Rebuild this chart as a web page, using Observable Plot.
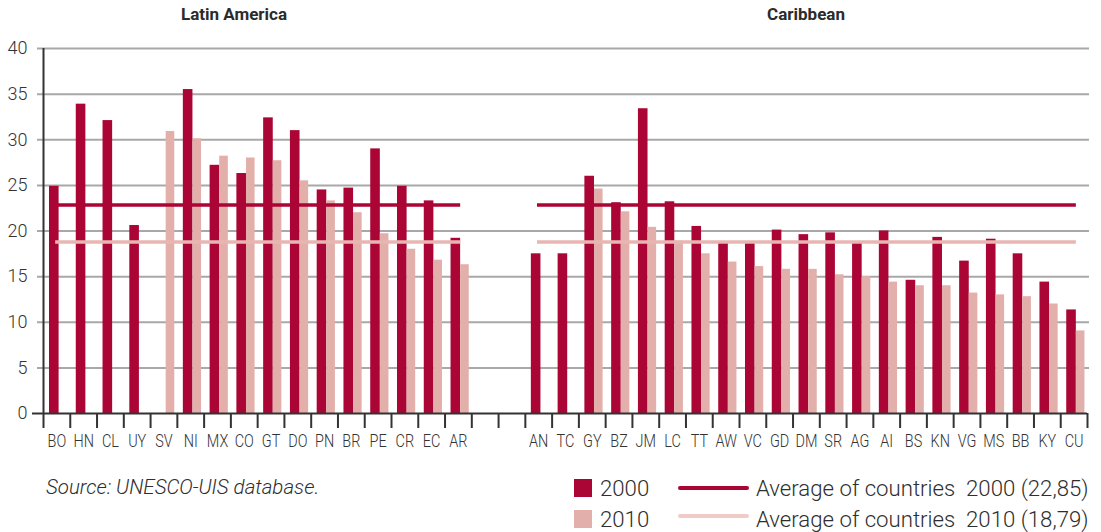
<!DOCTYPE html>
<html>
<head>
<meta charset="utf-8">
<script src="https://cdn.jsdelivr.net/npm/d3@7"></script>
<script src="https://cdn.jsdelivr.net/npm/@observablehq/plot@0.6"></script>
<style>
  body { margin: 0; background: #fff; }
  #wrap { position: relative; width: 1101px; height: 532px; overflow: hidden; font-family: Roboto, "Open Sans", sans-serif; color: #333; }
  .abs { position: absolute; white-space: pre; line-height: 1; }
  .title { font-weight: 700; font-size: 17px; transform: translateX(-50%); color: #2b2b2b; }
  .leg { font-size: 22.2px; font-weight: 300; color: #2e2e2e; }
  .sw { position: absolute; width: 18px; height: 18px; }
  .ln { position: absolute; width: 71px; height: 4px; border-radius: 2px; }
  #chart { position: absolute; left: 0; top: 0; }
</style>
</head>
<body>
<div id="wrap">
  <div id="chart"></div>
</div>
<script>
// ---- Data ----
const latinCountries = ["BO","HN","CL","UY","SV","NI","MX","CO","GT","DO","PN","BR","PE","CR","EC","AR"];
const latin2000 = [24.9, 33.9, 32.1, 20.6, null, 35.5, 27.2, 26.3, 32.4, 31.0, 24.5, 24.7, 29.0, 24.9, 23.3, 19.2];
const latin2010 = [null, null, null, null, 30.9, 30.1, 28.2, 28.0, 27.7, 25.5, 23.3, 22.0, 19.7, 18.0, 16.8, 16.3];

const caribCountries = ["AN","TC","GY","BZ","JM","LC","TT","AW","VC","GD","DM","SR","AG","AI","BS","KN","VG","MS","BB","KY","CU"];
const carib2000 = [17.5, 17.5, 26.0, 23.1, 33.4, 23.2, 20.5, 18.7, 18.7, 20.1, 19.6, 19.8, 18.7, 20.0, 14.6, 19.3, 16.7, 19.1, 17.5, 14.4, 11.35];
const carib2010 = [null, null, 24.6, 22.1, 20.4, 18.9, 17.5, 16.6, 16.1, 15.8, 15.8, 15.2, 15.0, 14.4, 14.0, 14.0, 13.2, 13.0, 12.8, 12.0, 9.05];

const gapSlots = ["gap1", "gap2"];
const average2000 = 22.85;
const average2010 = 18.79;
const yTicks = [0, 5, 10, 15, 20, 25, 30, 35, 40];

const regionTitles = ["Latin America", "Caribbean"];
const sourceText = "Source: UNESCO-UIS database.";
const legendYears = ["2000", "2010"];
const legendAverages = ["Average of countries  2000 (22,85)", "Average of countries  2010 (18,79)"];

// ---- Styles ----
const dark = "#ab0535";
const light = "#e2afab";
const lightLine = "#e8b6b2";
const legendLightLine = "#f1cbc8";

// ---- Build tables ----
const domain = [...latinCountries, ...gapSlots, ...caribCountries];
function rows(countries, values) {
  return countries.map((c, i) => ({country: c, value: values[i]})).filter(d => d.value != null);
}
const rows2000 = [...rows(latinCountries, latin2000), ...rows(caribCountries, carib2000)];
const rows2010 = [...rows(latinCountries, latin2010), ...rows(caribCountries, carib2010)];
function avgRows(value) {
  return [
    {group: "LA", country: latinCountries[0], value},
    {group: "LA", country: latinCountries[latinCountries.length - 1], value},
    {group: "CB", country: caribCountries[0], value},
    {group: "CB", country: caribCountries[caribCountries.length - 1], value}
  ];
}

const W = 1101, H = 460, mL = 43, mR = 14, mT = 48, mB = 47;
const bw = (W - mL - mR) / domain.length;
const frameH = H - mT - mB;

const plot = Plot.plot({
  width: W, height: H,
  marginLeft: mL, marginRight: mR, marginTop: mT, marginBottom: mB,
  style: {fontFamily: "Roboto, sans-serif", background: "white", color: "#333", overflow: "visible"},
  x: {type: "band", domain, padding: 0, label: null},
  y: {domain: [0, 40], label: null},
  marks: [
    Plot.ruleY(yTicks.filter(d => d > 0), {stroke: "#a8a8a8", strokeWidth: 2, insetLeft: -6, insetRight: -2}),
    Plot.barY(rows2000, {x: "country", y: "value", fill: dark, insetLeft: 6, insetRight: bw - 15.6}),
    Plot.barY(rows2010, {x: "country", y: "value", fill: light, insetLeft: 15.6, insetRight: bw - 24.2}),
    Plot.lineY(avgRows(average2010), {x: "country", y: "value", z: "group", stroke: lightLine, strokeWidth: 3.5, strokeLinecap: "square"}),
    Plot.lineY(avgRows(average2000), {x: "country", y: "value", z: "group", stroke: dark, strokeWidth: 3.5, strokeLinecap: "square"}),
    Plot.ruleY([0], {stroke: "#333", strokeWidth: 2, insetLeft: -11}),
    Plot.ruleX(domain.slice(1), {x: d => d, dx: -bw / 2, stroke: "#333", strokeWidth: 2, insetTop: frameH, insetBottom: -15}),
    Plot.ruleX([domain[domain.length - 1]], {x: d => d, dx: bw / 2, stroke: "#333", strokeWidth: 2, insetTop: frameH, insetBottom: -15}),
    Plot.ruleX([domain[0]], {x: d => d, dx: -bw / 2, stroke: "#333", strokeWidth: 2, insetBottom: -15}),
    Plot.axisX({tickSize: 0, tickPadding: 20, fontSize: 18.5, fill: "#333", tickFormat: d => gapSlots.includes(d) ? "" : d}),
    Plot.axisY({ticks: yTicks, tickSize: 0, tickPadding: 16, fontSize: 18, fill: "#333"})
  ]
});
document.getElementById("chart").appendChild(plot);

// condense x tick labels
d3.select(plot).selectAll('g[aria-label="x-axis tick label"] text').each(function() {
  const t = this.getAttribute("transform");
  if (t) {
    this.setAttribute("transform", t + " scale(0.78,1)");
  } else {
    const x = +this.getAttribute("x") || 0, y = +this.getAttribute("y") || 0;
    this.removeAttribute("x"); this.removeAttribute("y");
    this.setAttribute("transform", `translate(${x},${y}) scale(0.78,1)`);
  }
});
d3.select(plot).selectAll('g[aria-label="x-axis tick label"], g[aria-label="y-axis tick label"]').attr("font-weight", 300);

// ---- Titles & legend (HTML) ----
const wrap = d3.select("#wrap");
wrap.append("div").attr("class", "abs title").style("left", "234px").style("top", "6.4px").text(regionTitles[0]);
wrap.append("div").attr("class", "abs title").style("left", "806px").style("top", "6.4px").text(regionTitles[1]);

wrap.append("div").attr("class", "abs leg").style("left", "46px").style("top", "477.4px").style("font-style", "italic").style("font-size", "20.5px").text(sourceText);

const rowsTop = [476.8, 508];
const swColors = [dark, light];
const lnColors = [dark, legendLightLine];
legendYears.forEach((yr, i) => {
  wrap.append("div").attr("class", "sw").style("left", "574px").style("top", (479 + i * 31) + "px").style("background", swColors[i]);
  wrap.append("div").attr("class", "abs leg").style("left", "600px").style("top", rowsTop[i] + "px").text(yr);
  wrap.append("div").attr("class", "ln").style("left", "678px").style("top", (485.5 + i * 28.1) + "px").style("background", lnColors[i]);
  wrap.append("div").attr("class", "abs leg").style("left", "756px").style("top", rowsTop[i] + "px").text(legendAverages[i]);
});
</script>
</body>
</html>
